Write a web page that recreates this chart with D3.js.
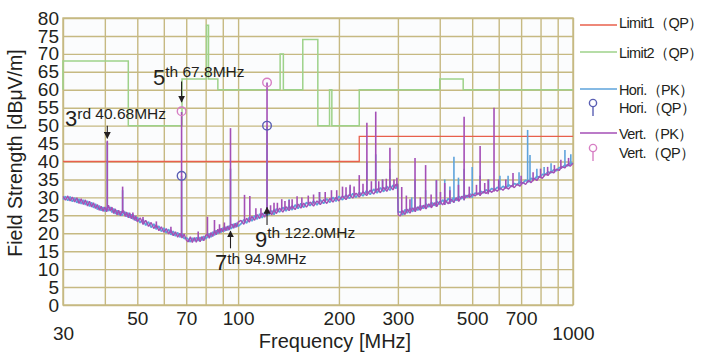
<!DOCTYPE html>
<html>
<head>
<meta charset="utf-8">
<script src="https://cdn.jsdelivr.net/npm/d3@7"></script>
<style>
  body { margin: 0; background: #fff; }
  svg { display: block; font-family: "Liberation Sans", Arial, sans-serif; }
</style>
</head>
<body>
<div id="main"></div>
<script>
// tick labels and grid
const xTicks = [30, 50, 70, 100, 200, 300, 500, 700, 1000];
const xGrid = [30, 40, 50, 60, 70, 80, 90, 100, 200, 300, 400, 500, 600, 700, 800, 900, 1000];
const yTicks = [0, 5, 10, 15, 20, 25, 30, 35, 40, 45, 50, 55, 60, 65, 70, 75, 80];

// limit lines [MHz, dBuV/m]
const limit1 = [[30, 40], [230, 40], [230, 47], [1000, 47]];
const limit2 = [[30, 60], [30, 68], [47, 68], [47, 50], [68, 50], [68, 63], [80.5, 63], [80.5, 78],
  [81.6, 78], [81.6, 63], [87, 63], [87, 60], [133.5, 60], [133.5, 70], [136.5, 70], [136.5, 60],
  [156, 60], [156, 74], [173, 74], [173, 50], [187.5, 50], [187.5, 60], [190.5, 60], [190.5, 50],
  [230, 50], [230, 60], [400, 60], [400, 63], [470, 63], [470, 60], [1000, 60]];

// measured noise floor, frequencies in MHz
const freqs = [
  30, 30.5, 31, 31.5, 32, 32.5, 33, 33.5, 34, 34.5, 35, 35.5, 36, 36.5, 37, 37.5, 38, 38.5, 39, 39.5,
  40, 40.5, 41, 41.5, 42, 42.5, 43, 43.5, 44, 44.5, 45, 45.5, 46, 46.5, 47, 47.5, 48, 48.5, 49, 49.5, 50,
  51, 52, 53, 54, 55, 56, 57, 58, 59, 60, 61, 62, 63, 64, 65, 66, 67, 68, 69, 70,
  71, 72, 73, 74, 75, 76, 77, 78, 79, 80, 81, 82, 83, 84, 85, 86, 87, 88, 89, 90,
  91, 92, 93, 94, 95, 96, 97, 98, 99, 100,
  102, 104, 106, 108, 110, 112, 114, 116, 118, 120, 122, 124, 126, 128, 130,
  133, 136, 139, 142, 145, 148, 151, 154, 157, 160,
  164, 168, 172, 176, 180, 184, 188, 192, 196, 200,
  205, 210, 215, 220, 225, 230,
  236, 242, 248, 254, 260, 266, 272, 278, 284, 290, 296,
  299.5, 300.5,
  305, 310, 315, 320,
  326, 332, 338, 344, 350,
  357, 364, 371, 378, 385, 392,
  400, 408, 416, 424, 432, 440,
  448, 456,
  465, 474, 483, 492, 501,
  510,
  520, 530, 540, 550,
  561, 572, 583, 594,
  606, 618, 630, 642,
  655, 668, 681, 694,
  708, 722, 736, 750,
  765, 780, 795, 810,
  826, 842, 858,
  875, 892, 909,
  927, 945, 963, 981, 1000
];

const horiPk = [
  29.4, 30.3, 29.1, 30.2, 28.8, 29.9, 28.5, 29.6, 28.2, 29.3, 27.9, 29.0, 27.5, 28.6, 27.1, 28.2, 26.6, 27.7, 26.3, 27.3,
  26.1, 27.1, 26.2, 27.3, 25.8, 26.9, 25.4, 26.4, 25.1, 26.1, 24.9, 25.7, 25.9, 24.6, 25.7, 24.3, 25.3, 23.9, 24.9, 23.5, 24.4,
  22.9, 23.9, 22.2, 23.2, 21.6, 22.6, 21.1, 22.0, 20.5, 21.5, 20.1, 21.1, 19.6, 20.6, 19.2, 20.2, 18.9, 19.9, 18.5, 18.8,
  18.3, 17.6, 18.7, 17.8, 18.8, 17.9, 18.9, 18.0, 19.2, 18.4, 19.0, 19.9, 18.9, 20.4, 19.4, 20.8, 19.8, 21.2, 20.2, 21.5,
  20.5, 21.8, 20.8, 22.1, 21.2, 21.6, 22.6, 21.6, 22.9, 21.9,
  22.6, 23.8, 22.8, 24.4, 23.4, 24.9, 23.9, 25.4, 24.3, 25.8, 25.0, 25.3, 26.3, 25.2, 26.8,
  25.9, 27.2, 26.2, 27.6, 26.5, 27.9, 26.9, 28.3, 27.2, 28.6,
  27.7, 29.0, 27.9, 29.3, 28.3, 29.6, 28.6, 30.0, 28.9, 30.3,
  29.3, 30.7, 29.7, 31.1, 30.0, 31.4,
  30.4, 31.9, 30.8, 32.3, 31.2, 32.7, 31.6, 33.1, 32.0, 33.4, 32.5,
  33.8, 25.8,
  26.0, 25.1, 26.6, 25.6,
  27.0, 26.0, 27.4, 26.4, 27.8,
  26.9, 28.2, 27.3, 28.6, 27.7, 28.9,
  28.0, 29.3, 28.4, 29.7, 28.8, 30.0,
  29.1, 30.3,
  29.6, 30.7, 30.0, 31.0, 30.3,
  31.2,
  30.8, 31.7, 31.2, 32.1,
  31.6, 32.5, 32.0, 32.8,
  32.3, 33.1, 32.6, 33.5,
  33.0, 33.9, 33.5, 34.3,
  33.9, 34.8, 34.4, 35.3,
  35.0, 35.9, 35.6, 36.4,
  36.3, 37.1, 36.8,
  37.7, 37.4, 38.3,
  38.3, 39.0, 38.8, 39.6, 39.4
];

const vertPk = [
  30.3, 29.2, 30.4, 29.0, 30.1, 28.7, 29.9, 28.3, 29.6, 28.0, 29.3, 27.6, 28.9, 27.3, 28.5, 26.9, 28.0, 26.4, 27.5, 26.1,
  27.3, 26.0, 27.8, 26.2, 27.3, 25.5, 26.8, 25.1, 26.4, 24.9, 26.1, 26.3, 24.7, 25.9, 24.3, 25.7, 24.0, 25.3, 23.6, 24.8, 23.2,
  24.3, 22.5, 23.6, 21.9, 23.0, 21.3, 22.4, 20.7, 21.8, 20.3, 21.3, 19.8, 20.9, 19.3, 20.4, 18.9, 20.0, 18.7, 19.8, 18.1,
  17.6, 19.0, 17.4, 18.8, 17.5, 18.9, 17.6, 19.1, 17.9, 19.4, 19.8, 18.6, 20.2, 19.1, 20.7, 19.6, 21.1, 20.0, 21.4, 20.4,
  21.8, 20.7, 22.0, 20.9, 22.3, 22.5, 21.4, 22.8, 21.7, 23.1,
  23.6, 22.5, 24.2, 23.1, 24.7, 23.6, 25.2, 24.1, 25.6, 24.5, 26.0, 26.2, 25.1, 26.6, 25.5,
  27.0, 25.9, 27.4, 26.3, 27.7, 26.6, 28.1, 27.0, 28.4, 27.3,
  28.7, 27.6, 29.0, 28.0, 29.4, 28.3, 29.7, 28.7, 30.0, 29.0,
  30.4, 29.4, 30.8, 29.8, 31.2, 30.1,
  31.6, 30.5, 32.0, 30.9, 32.4, 31.3, 32.8, 31.7, 33.2, 32.1, 33.6,
  33.6, 25.2,
  24.8, 26.3, 25.2, 26.7,
  25.6, 27.1, 26.0, 27.4, 26.4,
  27.8, 26.8, 28.2, 27.1, 28.5, 27.5,
  28.9, 27.9, 29.2, 28.2, 29.6, 28.6,
  29.9, 28.9,
  30.3, 29.7, 30.6, 30.0, 30.9,
  30.4,
  31.2, 30.8, 31.6, 31.1,
  32.0, 31.4, 32.3, 31.7,
  32.6, 32.0, 32.9, 32.3,
  33.3, 32.7, 33.7, 33.1,
  34.2, 33.6, 34.7, 34.1,
  35.3, 34.7, 35.9, 35.3,
  36.5, 36.1, 37.2,
  36.8, 37.9, 37.5,
  38.6, 38.2, 39.2, 38.7, 39.5
];

// emission spikes [MHz, floor, peak]
const horiSpikes = [
  [40.68, 26.5, 45.5], [45.2, 25.6, 32], [67.8, 19.2, 36], [94.9, 21.5, 38], [122, 25.5, 50],
  [142, 26.8, 29.5], [175, 28.5, 31.5], [216, 30.4, 33], [242.4, 31, 40], [257.6, 31.4, 42],
  [270, 32, 35], [284, 32.8, 38], [330, 26.3, 30], [337.5, 26.2, 35], [363, 26.8, 32],
  [391, 27.4, 34.8], [414, 27.9, 35], [429, 28.2, 33], [441, 28.4, 41.3], [455, 29.1, 35.5],
  [473, 29.2, 38], [500, 29.8, 38.5], [528, 30.4, 36], [560, 31.4, 35], [605, 32, 36],
  [640, 32.8, 36], [690, 33.5, 37], [732, 34, 48.8], [744, 34.2, 41.8], [780, 35.2, 38],
  [820, 35.8, 38.5], [860, 36.8, 39.5], [946, 38.2, 43.2], [985, 39, 42]
];
const vertSpikes = [
  [40.68, 26.5, 45.8], [45.2, 25.6, 33], [48.5, 24.5, 25.8], [52, 22.5, 24.5], [57, 21.5, 23.3],
  [63, 20, 21.8], [67.8, 19.2, 53.8], [76, 18.5, 20.5], [81, 19.2, 24.6], [85, 20.2, 23.7],
  [88, 20.5, 22.5], [91, 21, 23], [94.9, 21.5, 49.3], [104.5, 23.2, 30.7], [108.4, 23.6, 30.4],
  [113, 24.2, 27], [117, 24.6, 27], [122, 25.5, 62], [125, 25.6, 27.8], [128, 26, 28.5],
  [131, 26, 28.5], [135, 26.4, 29.5], [138, 26.5, 29], [142, 26.8, 29.3], [145, 26.8, 29.5],
  [150, 27.2, 30.3], [155, 27.3, 30], [162, 28, 30.5], [168, 28.2, 30.8], [175, 28.5, 31.5],
  [182, 28.9, 31.5], [190, 29.2, 32], [197, 29.5, 32], [205, 30, 33], [210, 30, 32.8],
  [216, 30.4, 33.5], [222, 30.4, 33], [230, 30.6, 36.2], [236, 31, 33.8], [242.4, 31, 50.8],
  [250, 31.4, 34.5], [257.6, 31.4, 53.9], [263, 31.8, 34.5], [270, 32, 35], [277, 32.2, 35.2],
  [284, 32.8, 43.8], [292, 32.6, 35], [298, 33, 35.5], [308, 25.6, 32.9], [318, 25.8, 30.5],
  [326, 26.2, 29.5], [337.5, 26.2, 41], [350, 26.8, 30], [363, 26.8, 39], [377, 27.3, 30.8],
  [391, 27.4, 34.8], [402, 28.3, 31.5], [414, 27.9, 34], [429, 28.2, 32], [455, 29.1, 33.5],
  [473, 29.2, 52.5], [490, 30, 33], [515, 30.6, 33.5], [528, 30.4, 44.3], [545, 31.2, 34],
  [558, 30.9, 35], [581, 31.6, 55], [600, 32.2, 35], [630, 32.5, 35], [662, 32.9, 36.8],
  [700, 33.6, 36], [760, 34.5, 37], [800, 35.5, 38], [840, 36.2, 38.5], [880, 36.9, 39],
  [920, 37.9, 40.5], [970, 38.7, 41]
];

// quasi-peak results
const horiQp = [[67.8, 36], [122, 50]];
const vertQp = [[67.8, 54], [122, 62]];

const legendLabels = ["Limit1（QP）", "Limit2（QP）", "Hori.（PK）", "Hori.（QP）", "Vert.（PK）", "Vert.（QP）"];

const notes = [
  {n: "3", rest: "rd 40.68MHz", freq: 40.68},
  {n: "5", rest: "th 67.8MHz", freq: 67.8},
  {n: "7", rest: "th 94.9MHz", freq: 94.9},
  {n: "9", rest: "th 122.0MHz", freq: 122.0}
];

function chart(){
  const w = 703;
  const h = 356;
  const margin = {top: 18, right: 130, bottom: 51, left: 63};
  const ink = "#231f20";
  const gridColor = "#c6b982";
  const colors = {
    limit1: "#e8604c",
    limit2: "#9ed28a",
    hori: "#5ea3db",
    vert: "#a44fb6",
    horiQp: "#5a5fb3",
    vertQp: "#d77fc4"
  };

  const svg = d3.select("#main").append("svg")
                .attr("width", w)
                .attr("height", h);

  const x = d3.scaleLog()
              .domain([30, 1000])
              .range([margin.left, w - margin.right]);
  const y = d3.scaleLinear()
              .domain([0, 80])
              .range([h - margin.bottom, margin.top]);

  const pw = x(1000) - x(30);
  const ph = y(0) - y(80);

  svg.append("rect")
     .attr("x", x(30)).attr("y", y(80))
     .attr("width", pw).attr("height", ph)
     .attr("fill", "#fbfcfd");

  // grid
  const gx = svg.append("g")
                .attr("transform", "translate(0," + y(0) + ")")
                .call(d3.axisBottom(x).tickValues(xGrid).tickSize(-ph).tickFormat(""));
  const gy = svg.append("g")
                .attr("transform", "translate(" + x(30) + ",0)")
                .call(d3.axisLeft(y).tickValues(yTicks).tickSize(-pw).tickFormat(""));
  [gx, gy].forEach(g => {
    g.select(".domain").remove();
    g.selectAll("line").attr("stroke", gridColor).attr("stroke-width", 1.4);
  });

  svg.append("rect")
     .attr("x", x(30)).attr("y", y(80))
     .attr("width", pw).attr("height", ph)
     .attr("fill", "none")
     .attr("stroke", gridColor)
     .attr("stroke-width", 1.4);

  // tick labels
  const xAxis = svg.append("g")
                   .attr("transform", "translate(0," + y(0) + ")")
                   .call(d3.axisBottom(x).tickValues(xTicks).tickFormat(d3.format("d")).tickSize(0).tickPadding(7));
  xAxis.select(".domain").remove();
  xAxis.selectAll("text")
       .attr("font-size", 19)
       .attr("fill", ink)
       .attr("dy", d => (d === 30 || d === 1000) ? "1.48em" : "0.71em");

  const yAxis = svg.append("g")
                   .attr("transform", "translate(" + x(30) + ",0)")
                   .call(d3.axisLeft(y).tickValues(yTicks).tickSize(0).tickPadding(4));
  yAxis.select(".domain").remove();
  yAxis.selectAll("text")
       .attr("font-size", 19)
       .attr("fill", ink);

  svg.append("text")
     .attr("transform", "rotate(-90)")
     .attr("x", -153)
     .attr("y", 22)
     .attr("text-anchor", "middle")
     .attr("font-size", 19.5)
     .attr("fill", ink)
     .text("Field Strength [dBμV/m]");

  svg.append("text")
     .attr("x", 335)
     .attr("y", 348)
     .attr("text-anchor", "middle")
     .attr("font-size", 20)
     .attr("fill", ink)
     .text("Frequency [MHz]");

  const plot = svg.append("g");
  const line = d3.line().x(d => x(d[0])).y(d => y(d[1]));

  plot.append("path")
      .attr("d", line(limit2))
      .attr("fill", "none")
      .attr("stroke", colors.limit2)
      .attr("stroke-width", 1.5);
  plot.append("path")
      .attr("d", line(limit1))
      .attr("fill", "none")
      .attr("stroke", colors.limit1)
      .attr("stroke-width", 1.3);

  const n = Math.min(freqs.length, horiPk.length, vertPk.length);
  const hori = freqs.slice(0, n).map((f, i) => [f, horiPk[i]]);
  const vert = freqs.slice(0, n).map((f, i) => [f, vertPk[i]]);

  function spikes(data, color){
    plot.append("g")
        .selectAll("line")
        .data(data)
        .enter()
        .append("line")
        .attr("x1", d => x(d[0])).attr("x2", d => x(d[0]))
        .attr("y1", d => y(d[1])).attr("y2", d => y(d[2]))
        .attr("stroke", color)
        .attr("stroke-width", 1.6);
  }

  plot.append("path")
      .attr("d", line(hori))
      .attr("fill", "none")
      .attr("stroke", colors.hori)
      .attr("stroke-width", 1.7)
      .attr("stroke-linejoin", "bevel");
  spikes(horiSpikes, colors.hori);

  spikes(vertSpikes, colors.vert);
  plot.append("path")
      .attr("d", line(vert))
      .attr("fill", "none")
      .attr("stroke", colors.vert)
      .attr("stroke-width", 1.4)
      .attr("stroke-linejoin", "bevel");

  // QP markers
  const qpSets = [[horiQp, colors.horiQp], [vertQp, colors.vertQp]];
  qpSets.forEach(([data, color]) => {
    plot.append("g")
        .selectAll("circle")
        .data(data)
        .enter()
        .append("circle")
        .attr("cx", d => x(d[0]))
        .attr("cy", d => y(d[1]))
        .attr("r", 4.3)
        .attr("fill", "none")
        .attr("stroke", color)
        .attr("stroke-width", 1.4);
  });

  // annotations
  svg.append("defs").append("marker")
     .attr("id", "head")
     .attr("viewBox", "0 0 10 10")
     .attr("refX", 9).attr("refY", 5)
     .attr("markerWidth", 7).attr("markerHeight", 7)
     .attr("markerUnits", "userSpaceOnUse")
     .attr("orient", "auto")
     .append("path")
     .attr("d", "M0,0 L10,5 L0,10 Z")
     .attr("fill", ink);

  const noteLayout = [
    {tx: 65, ty: 126, dy: -7, tail: 50, tip: 46.5},
    {tx: 153, ty: 85, dy: -8, tail: 62.3, tip: 56.6},
    {tx: 215, ty: 270, dy: -6, tail: 15.8, tip: 20.6},
    {tx: 255, ty: 247, dy: -9, tail: 22.3, tip: 27.2}
  ];

  notes.forEach((d, i) => {
    const L = noteLayout[i];
    svg.append("line")
       .attr("x1", x(d.freq)).attr("x2", x(d.freq))
       .attr("y1", y(L.tail)).attr("y2", y(L.tip))
       .attr("stroke", ink)
       .attr("stroke-width", 1.1)
       .attr("marker-end", "url(#head)");
    const t = svg.append("text")
                 .attr("x", L.tx)
                 .attr("y", L.ty)
                 .attr("fill", ink);
    t.append("tspan").attr("font-size", 22).text(d.n);
    t.append("tspan").attr("font-size", 15.5).attr("dy", L.dy).text(d.rest);
  });

  // legend
  const lx0 = 580, lx1 = 617, tx = 619;
  const rows = [22, 52, 89, 107, 133, 152];
  const kinds = [
    {type: "line", color: colors.limit1},
    {type: "line", color: colors.limit2},
    {type: "line", color: colors.hori},
    {type: "mark", color: colors.horiQp},
    {type: "line", color: colors.vert},
    {type: "mark", color: colors.vertQp}
  ];
  const legend = svg.append("g");
  legendLabels.forEach((label, i) => {
    const k = kinds[i];
    const yy = rows[i];
    if (k.type === "line") {
      const ly = i === 0 ? yy + 3 : yy;
      legend.append("line")
            .attr("x1", lx0).attr("x2", lx1)
            .attr("y1", ly).attr("y2", ly)
            .attr("stroke", k.color)
            .attr("stroke-width", 1.5);
    } else {
      legend.append("line")
            .attr("x1", 593).attr("x2", 593)
            .attr("y1", yy).attr("y2", yy + 9)
            .attr("stroke", k.color)
            .attr("stroke-width", 1.4);
      legend.append("circle")
            .attr("cx", 593).attr("cy", yy - 4)
            .attr("r", 3.6)
            .attr("fill", "none")
            .attr("stroke", k.color)
            .attr("stroke-width", 1.4);
    }
    legend.append("text")
          .attr("x", tx)
          .attr("y", yy + 5.5)
          .attr("font-size", 14.5)
          .attr("letter-spacing", -0.6)
          .attr("fill", ink)
          .text(label);
  });
}

chart();
</script>
</body>
</html>
